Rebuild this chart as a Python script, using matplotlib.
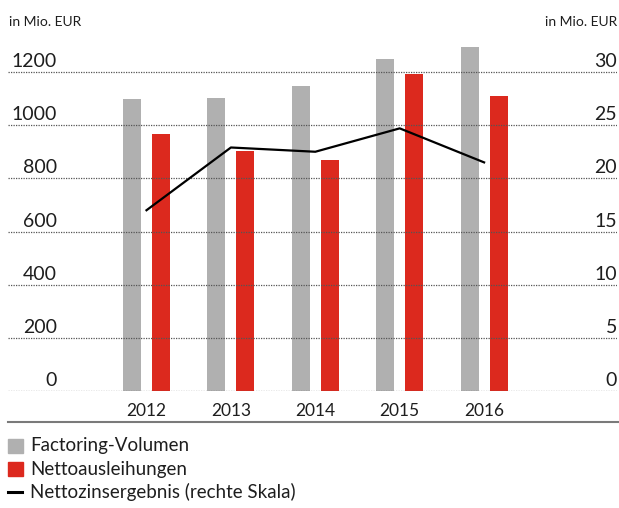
import numpy as np
import matplotlib.pyplot as plt
from matplotlib.patches import Rectangle
from matplotlib.lines import Line2D

years = ['2012', '2013', '2014', '2015', '2016']
factoring = [1098, 1102, 1147, 1249, 1294]
netto_ausl = [967, 903, 869, 1193, 1110]
zinsergebnis = [17.0, 22.9, 22.5, 24.7, 21.5]
left_ticks = [0, 200, 400, 600, 800, 1000, 1200]
right_ticks = [0, 5, 10, 15, 20, 25, 30]

gray = '#b0b0b0'
red = '#dc291e'
txt = '#1e1e1e'
plt.rcParams['font.family'] = ['Lato', 'DejaVu Sans']

W, H = 619, 508
fig = plt.figure(figsize=(W / 100, H / 100), dpi=100)

# axes: x from 8 to 617 px, 0 at y=391, 1200 at y=72
ppu = (391 - 72) / 1200
ytop = 1300
ax = fig.add_axes([8 / W, (H - 391) / H, 609 / W, ytop * ppu / H])
x = np.arange(len(years))
bw = 18 / 84.4
off = 14.5 / 84.4
ax.bar(x - off, factoring, bw, color=gray, zorder=1)
ax.bar(x + off, netto_ausl, bw, color=red, zorder=1)
ax.set_xlim((8 - 146.5) / 84.4, (617 - 146.5) / 84.4)
ax.set_ylim(0, ytop)
ax.set_yticks(left_ticks)
ax.set_yticklabels([])
ax.tick_params(axis='y', length=0)
ax.set_axisbelow(False)
ax.grid(axis='y', color='#555555', linestyle=(0, (1, 1)), linewidth=0.9)
ax.set_xticks(x)
ax.set_xticklabels(years, fontsize=12.5, color=txt)
ax.tick_params(axis='x', length=0, pad=9)
for s in ax.spines.values():
    s.set_visible(False)

for v in left_ticks:
    ax.annotate(str(v), xy=((57 - 8) / 609, v), xycoords=('axes fraction', 'data'),
                xytext=(0, 3.5), textcoords='offset points',
                ha='right', va='baseline', fontsize=14, color=txt)

ax2 = ax.twinx()
ax2.set_ylim(0, ytop / 40)
ax2.plot(x, zinsergebnis, color='black', linewidth=1.6, zorder=3)
ax2.set_yticks([])
for s in ax2.spines.values():
    s.set_visible(False)
for v in right_ticks:
    ax2.annotate(str(v), xy=(1.0, v), xycoords=('axes fraction', 'data'),
                 xytext=(0, 3.5), textcoords='offset points',
                 ha='right', va='baseline', fontsize=14, color=txt)

# units
fig.text(9 / W, (H - 26) / H, 'in Mio. EUR', fontsize=10, ha='left', va='baseline', color=txt)
fig.text(617 / W, (H - 26) / H, 'in Mio. EUR', fontsize=10, ha='right', va='baseline', color=txt)

# bottom rule
fig.add_artist(Line2D([8 / W, 1.0], [(H - 422) / H] * 2, color='#7a7a7a', linewidth=1.5))

# legend
legend_items = [('Factoring-Volumen', gray, 'box'),
                ('Nettoausleihungen', red, 'box'),
                ('Nettozinsergebnis (rechte Skala)', 'black', 'line')]
for i, (label, col, kind) in enumerate(legend_items):
    yc = 446 + i * 23
    if kind == 'box':
        fig.add_artist(Rectangle((8 / W, (H - yc - 7) / H), 15 / W, 14 / H,
                                 color=col, transform=fig.transFigure))
    else:
        fig.add_artist(Line2D([8 / W, 22 / W], [(H - yc) / H] * 2, color=col, linewidth=2.2))
    fig.text(30 / W, (H - yc) / H, label, fontsize=13.5, ha='left', va='center', color=txt)

fig.savefig('out.png', dpi=100)
